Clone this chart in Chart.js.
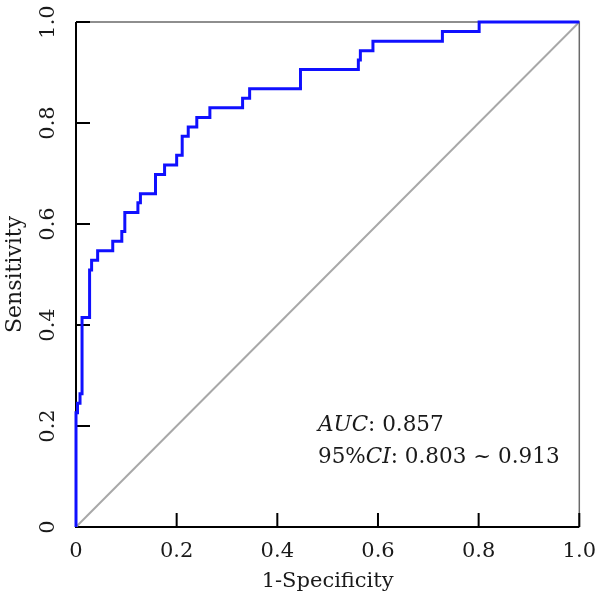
<!DOCTYPE html>
<html>
<head>
<meta charset="utf-8">
<script src="https://cdn.jsdelivr.net/npm/chart.js@4/dist/chart.umd.min.js"></script>
<style>
  html, body { margin: 0; padding: 0; background: #fff; }
  #wrap { width: 608px; height: 607px; }
</style>
</head>
<body>
<div id="wrap"><canvas id="roc_chart"></canvas></div>
<script>
/************ 데이터 ************/
// ROC 곡선 (1-특이도, 민감도)
const fpr = [0, 0, 0.003, 0.008, 0.012, 0.027, 0.031, 0.043, 0.073, 0.091, 0.097, 0.123, 0.128, 0.158, 0.176,
  0.200, 0.211, 0.223, 0.240, 0.266, 0.331, 0.345, 0.446, 0.561, 0.565, 0.590, 0.728, 0.801, 1.0];
const tpr = [0, 0.226, 0.245, 0.264, 0.415, 0.509, 0.528, 0.547, 0.566, 0.585, 0.623, 0.642, 0.660, 0.698, 0.717,
  0.736, 0.774, 0.792, 0.811, 0.830, 0.849, 0.868, 0.906, 0.925, 0.943, 0.962, 0.981, 1.0, 1.0];
// 기준선
const refX = [0, 1];
const refY = [0, 1];
// 눈금
const tickValues = [0, 0.2, 0.4, 0.6, 0.8, 1.0];
const tickLabels = ['0', '0.2', '0.4', '0.6', '0.8', '1.0'];
const aucValue = '0.857';
const ciLow = '0.803';
const ciHigh = '0.913';

const FONT = "'DejaVu Serif', serif";
Chart.defaults.font.family = FONT;
Chart.defaults.color = '#1a1a1a';

/************ 축, 눈금, 텍스트 그리기 ************/
const framePlugin = {
  id: 'frame',
  beforeDatasetsDraw(chart) {
    const ctx = chart.ctx;
    const a = chart.chartArea;
    const xs = chart.scales.x, ys = chart.scales.y;
    ctx.save();
    // 위, 오른쪽 테두리
    ctx.strokeStyle = '#6a6a6a';
    ctx.lineWidth = 1.5;
    ctx.beginPath();
    ctx.moveTo(a.left, a.top);
    ctx.lineTo(a.right, a.top);
    ctx.lineTo(a.right, a.bottom);
    ctx.stroke();
    // 왼쪽, 아래 축
    ctx.strokeStyle = '#000';
    ctx.lineWidth = 2;
    ctx.beginPath();
    ctx.moveTo(a.left, a.top);
    ctx.lineTo(a.left, a.bottom);
    ctx.lineTo(a.right, a.bottom);
    ctx.stroke();
    // 안쪽 눈금
    tickValues.forEach(v => {
      const px = xs.getPixelForValue(v);
      const py = ys.getPixelForValue(v);
      ctx.beginPath();
      ctx.moveTo(px, a.bottom);
      ctx.lineTo(px, a.bottom - 14);
      ctx.moveTo(a.left, py);
      ctx.lineTo(a.left + 14, py);
      ctx.stroke();
    });
    // y축 눈금 글자 (세로)
    ctx.fillStyle = '#1a1a1a';
    ctx.font = '21px ' + FONT;
    ctx.textAlign = 'center';
    ctx.textBaseline = 'middle';
    tickValues.forEach((v, i) => {
      ctx.save();
      ctx.translate(a.left - 27, ys.getPixelForValue(v));
      ctx.rotate(-Math.PI / 2);
      ctx.fillText(tickLabels[i], 0, 0);
      ctx.restore();
    });
    ctx.restore();
  },
  afterDraw(chart) {
    const ctx = chart.ctx;
    const a = chart.chartArea;
    ctx.save();
    ctx.fillStyle = '#1a1a1a';
    ctx.textBaseline = 'alphabetic';
    ctx.textAlign = 'left';
    const parts = (list, x, y) => {
      list.forEach(p => {
        ctx.font = (p[1] ? 'italic ' : '') + '21.5px ' + FONT;
        ctx.fillText(p[0], x, y);
        x += ctx.measureText(p[0]).width;
      });
    };
    const x0 = a.left + 242;
    parts([['AUC', true], [': ' + aucValue, false]], x0, a.top + 409);
    parts([['95%', false], ['CI', true], [': ' + ciLow + ' ~ ' + ciHigh, false]], x0, a.top + 441);
    ctx.restore();
  }
};

const ctx = document.getElementById('roc_chart');

const data = {
  datasets: [{
    label: 'ROC',
    data: fpr.map((x, i) => ({ x: x, y: tpr[i] })),
    showLine: true,
    stepped: 'before',
    borderColor: '#1010ff',
    borderWidth: 3,
    pointRadius: 0,
    clip: 4,
    order: 1
  }, {
    label: 'reference',
    data: refX.map((x, i) => ({ x: x, y: refY[i] })),
    showLine: true,
    borderColor: '#a8a8a8',
    borderWidth: 2,
    pointRadius: 0,
    order: 2
  }]
};

const config = {
  type: 'scatter',
  data: data,
  options: {
    responsive: true,
    maintainAspectRatio: false,
    animation: false,
    layout: { padding: { top: 22, right: 23, left: 0, bottom: 0 } },
    plugins: {
      legend: { display: false },
      tooltip: { enabled: false }
    },
    scales: {
      x: {
        type: 'linear',
        min: 0,
        max: 1,
        afterBuildTicks: s => { s.ticks = tickValues.map(v => ({ value: v })); },
        afterFit: s => { s.height = 80; },
        grid: { display: false, drawTicks: false },
        border: { display: false },
        ticks: {
          padding: 12,
          font: { size: 21 },
          color: '#1a1a1a',
          maxRotation: 0,
          callback: v => tickLabels[tickValues.indexOf(v)]
        },
        title: {
          display: true,
          text: '1-Specificity',
          font: { size: 21 },
          color: '#1a1a1a',
          padding: { top: 0, bottom: 13 }
        }
      },
      y: {
        type: 'linear',
        min: 0,
        max: 1,
        afterBuildTicks: s => { s.ticks = tickValues.map(v => ({ value: v })); },
        afterFit: s => { s.width = 76; },
        grid: { display: false, drawTicks: false },
        border: { display: false },
        ticks: { display: false },
        title: {
          display: true,
          text: 'Sensitivity',
          font: { size: 22 },
          color: '#1a1a1a',
          padding: { top: 2 }
        }
      }
    }
  },
  plugins: [framePlugin]
};

new Chart(ctx, config);
</script>
</body>
</html>
